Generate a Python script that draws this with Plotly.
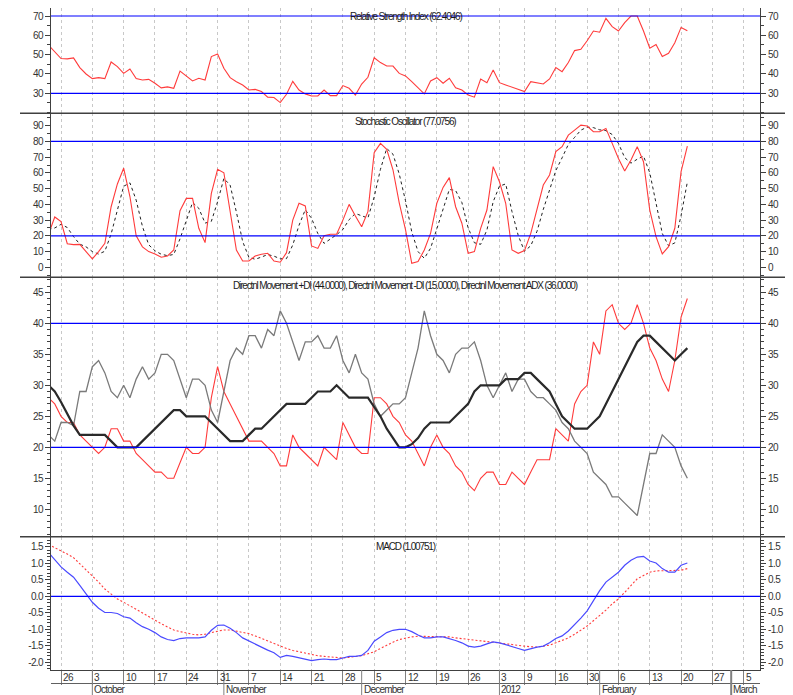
import plotly.graph_objects as go

# ---------------- data (trading-day number, 0 = Mon 26 Sep 2011) ----------------
days = list(range(-2, 101))

rsi = [55, 51.5, 48, 47.8, 48.3, 43.3, 40, 37.6, 38.1, 37.6,
       46.2, 43.8, 40.3, 42.6, 37.6, 36.9, 37.2, 35.2, 32.8, 33.3,
       32.6, 41.5, 39, 36.4, 37.8, 36.9, 49, 50.3, 43, 38.1,
       36, 34.3, 31.7, 32, 30.9, 28, 27.8, 25.2, 29.5, 36.2,
       31.7, 29.7, 28.6, 28.6, 31.7, 28.8, 28.8, 34, 32.6, 29.1,
       34.8, 38.3, 48.4, 45.9, 44.1, 44.1, 40.3, 39, 36, 32.6,
       29.7, 36.4, 38.1, 35.2, 37.8, 32.9, 31.7, 29.1, 28, 37.4,
       35.5, 42.1, 35.5, 34.3, 33.1, 32.1, 30.9, 36, 35.5, 34.8,
       37.4, 43.3, 41.2, 45.9, 52.1, 52.8, 57.2, 62.2, 61.6, 68.8,
       64.5, 62.2, 66.6, 70, 70, 62.2, 53.3, 55.3, 49, 50.7,
       56.2, 64.1, 62.4046]

stoch_k = [21, 32, 29, 15, 14.4, 14.6, 10, 5.3, 10, 15.2,
           38.5, 53, 63, 45, 20, 13, 10, 8.5, 6.4, 7.2,
           11, 36, 43.8, 43.8, 24.8, 15.7, 47, 62.3, 60.1, 34.3,
           11, 4, 4, 7.2, 8.3, 8.9, 4, 3.2, 9.3, 30,
           40.7, 39, 13.6, 12, 20, 21, 21, 30, 40, 32.6,
           25.8, 35.4, 72.8, 78.8, 75, 62, 41, 24, 2.5, 3.6,
           11, 21.6, 40.7, 50.8, 57, 38.5, 28, 8.9, 10, 24.8,
           36.4, 64, 54.4, 40.7, 11, 8.9, 10.6, 21.6, 36.4, 52.3,
           58.7, 73.5, 76.7, 84, 87.2, 90.4, 89.8, 86.2, 86.2, 88.3,
           78.8, 69.2, 61.2, 68.2, 76.7, 67.1, 36.4, 19.5, 8.5, 13.1,
           24.8, 60.8, 77.0756]

stoch_d = [24, 25, 27.3, 25.3, 19.5, 14.7, 13, 10, 8.4, 10.2,
           21.2, 35.6, 51.5, 53.7, 42.7, 26, 14.3, 10.5, 8.3, 7.4,
           8.2, 18.1, 30.3, 41.2, 37.5, 28.1, 29.2, 41.7, 56.5, 52.2,
           35.1, 16.4, 6.3, 5.1, 6.5, 8.1, 7.1, 5.4, 5.5, 14.2,
           26.7, 36.6, 31.1, 21.5, 15.2, 17.7, 20.7, 24, 30.3, 34.2,
           32.8, 31.3, 44.7, 62.3, 75.5, 71.9, 59.3, 42.3, 22.5, 10,
           5.7, 12.1, 24.4, 37.7, 49.5, 48.8, 41.2, 25.1, 15.6, 14.6,
           23.7, 41.7, 51.6, 53, 35.4, 20.2, 10.2, 13.7, 22.9, 36.8,
           49.1, 61.5, 69.6, 78.1, 82.6, 87.2, 89.1, 88.8, 87.4, 86.9,
           84.4, 78.8, 69.7, 66.2, 68.7, 70.7, 60.1, 41, 21.5, 13.7,
           15.5, 32.9, 54.2]

plus_di = [28, 27, 25, 24, 24, 22, 21, 20, 19, 20,
           23, 23, 21, 21, 19, 18, 17, 16, 16, 15,
           15, 17.5, 20, 19, 19, 20, 28, 33, 29, 27,
           25, 23, 21, 21, 21, 20, 19, 17, 17, 22,
           20, 19, 18, 17, 20, 19, 18, 24, 22, 20,
           19, 19, 28, 28, 27, 25, 24, 22, 21, 19,
           17, 20, 22, 20, 19, 17, 16, 14, 13, 15,
           16, 16, 14, 14, 16, 15, 14, 16, 18, 18,
           18, 23, 22, 21, 27, 29, 30, 37, 35, 42,
           43, 40, 39, 40, 43, 40, 36, 34, 31, 29,
           34, 41, 44]

minus_di = [22, 21, 24, 24, 23.5, 29, 29, 33, 34, 32,
            29, 28, 30, 28, 31, 33, 31, 32, 35, 35,
            34, 31, 28, 31, 31, 30, 26, 24, 29, 34,
            36, 35, 38, 38, 36, 39, 38, 42, 40, 37,
            34, 37, 37, 38, 36, 36, 38, 34, 32, 35,
            32, 31, 27, 25, 26, 27, 27, 28, 32, 36,
            42, 38, 35, 34, 32, 35, 36, 36, 37, 34,
            30, 28, 30, 32, 29, 31, 31, 29, 28, 28,
            27, 26, 24, 23, 21, 20, 19, 16, 15, 14,
            12, 12, 11, 10, 9, 14, 19, 19, 22, 21,
            20, 17, 15]

adx = [30, 29, 27.3, 25.5, 23.5, 22, 22, 22, 22, 22,
       21, 20, 20, 20, 20, 21, 22, 23, 24, 25,
       26, 26, 25, 25, 25, 25, 24, 23, 22, 21,
       21, 21, 22, 23, 23, 24, 25, 26, 27, 27,
       27, 27, 28, 29, 29, 29, 30, 29, 28, 28,
       28, 28, 26.5, 25, 23, 21.5, 20, 20, 20.5, 21.5,
       23, 24, 24, 24, 24, 25, 26, 27, 29, 30,
       30, 30, 30, 31, 31, 31, 32, 32, 31, 30,
       29, 27, 25, 24, 23, 23, 23, 24, 25, 27,
       29, 31, 33, 35, 37, 38, 38, 37, 36, 35,
       34, 35, 36]

macd = [1.33, 1.1, 0.89, 0.73, 0.58, 0.33, 0.07, -0.18, -0.36, -0.49,
        -0.49, -0.52, -0.62, -0.66, -0.8, -0.92, -1.0, -1.1, -1.23, -1.31,
        -1.34, -1.28, -1.26, -1.26, -1.26, -1.23, -1.03, -0.88, -0.87, -0.97,
        -1.1, -1.26, -1.36, -1.44, -1.54, -1.63, -1.71, -1.85, -1.79, -1.82,
        -1.87, -1.92, -1.95, -1.92, -1.9, -1.92, -1.92, -1.87, -1.82, -1.82,
        -1.79, -1.64, -1.36, -1.23, -1.1, -1.03, -1.0, -1.0, -1.07, -1.17,
        -1.26, -1.26, -1.23, -1.23, -1.28, -1.34, -1.41, -1.51, -1.54, -1.51,
        -1.44, -1.38, -1.41, -1.46, -1.51, -1.58, -1.64, -1.58, -1.54, -1.51,
        -1.41, -1.28, -1.2, -1.05, -0.87, -0.66, -0.44, -0.13, 0.17, 0.43,
        0.58, 0.73, 0.94, 1.09, 1.19, 1.21, 1.07, 1.01, 0.84, 0.73,
        0.73, 0.94, 1.00751]

macd_signal = [1.57, 1.48, 1.38, 1.28, 1.17, 0.99, 0.81, 0.6, 0.43, 0.22,
               0.07, -0.08, -0.18, -0.29, -0.41, -0.52, -0.62, -0.72, -0.83, -0.93,
               -1.02, -1.07, -1.12, -1.15, -1.17, -1.15, -1.1, -1.05, -1.02, -1.02,
               -1.05, -1.1, -1.13, -1.2, -1.28, -1.36, -1.44, -1.51, -1.58, -1.64,
               -1.68, -1.72, -1.77, -1.8, -1.82, -1.84, -1.85, -1.87, -1.85, -1.83,
               -1.8, -1.74, -1.68, -1.58, -1.48, -1.39, -1.31, -1.26, -1.23, -1.21,
               -1.21, -1.21, -1.21, -1.22, -1.23, -1.26, -1.28, -1.31, -1.34, -1.36,
               -1.38, -1.39, -1.4, -1.43, -1.46, -1.49, -1.52, -1.53, -1.54, -1.51,
               -1.48, -1.41, -1.34, -1.26, -1.15, -1.03, -0.9, -0.74, -0.59, -0.42,
               -0.23, -0.08, 0.12, 0.33, 0.53, 0.63, 0.73, 0.77, 0.77, 0.77,
               0.77, 0.79, 0.84]

week_pos = [0, 5, 10, 15, 20, 25, 30, 35, 40, 45, 50, 55, 60, 65, 70, 74, 79, 84, 89, 94, 99, 104, 109]
week_labels = ["26", "3", "10", "17", "24", "31", "7", "14", "21", "28", "5", "12",
               "19", "26", "3", "9", "16", "30", "6", "13", "20", "27", "5"]
month_pos = [5, 26, 48, 70, 86, 107]
month_labels = ["October", "November", "December", "2012", "February", "March"]

rsi_levels = [30, 70]
stoch_levels = [20, 80]
dmi_levels = [20, 40]
macd_levels = [0]

rsi_ticks = [30, 40, 50, 60, 70]
stoch_ticks = [0, 10, 20, 30, 40, 50, 60, 70, 80, 90]
dmi_ticks = [10, 15, 20, 25, 30, 35, 40, 45]
macd_ticks = [-2.0, -1.5, -1.0, -0.5, 0.0, 0.5, 1.0, 1.5]

titles = ["Relative Strength Index (62.4046)",
          "Stochastic Oscillator (77.0756)",
          "Directnl Movement +DI (44.0000), Directnl Movement -DI (15.0000), Directnl Movement ADX (36.0000)",
          "MACD (1.00751)"]

# ---------------- geometry (page pixels; the page body adds an 8px offset) ----------------
OFF = 8
PAGE_W, PAGE_H = 793, 695
W, H = PAGE_W - OFF, PAGE_H - OFF
P_LEFT, P_RIGHT, P_TOP, P_BOT = 51, 760, 8, 670
ML, MR, MT, MB = P_LEFT - OFF, W - (P_RIGHT - OFF), P_TOP - OFF, H - (P_BOT - OFF)
PH = P_BOT - P_TOP
PW = P_RIGHT - P_LEFT


def fy(py):  # page pixel y -> paper fraction
    return (P_BOT - py) / PH


def fx(px):
    return (px - P_LEFT) / PW


panel_px = [(8, 113.3), (113.3, 277.3), (277.3, 536.7), (536.7, 670)]
domains = [[fy(b), fy(t)] for t, b in panel_px]
domains[0][1] = 1.0
domains[3][0] = 0.0
ranges = [[19.65, 74.14], [-6.36, 97.9], [5.58, 47.42], [-2.233, 1.806]]
xrange_ = [-1.6, 111.6]

FONT = "Liberation Sans, Arial, sans-serif"
AX = "#404040"
RED = "#ff3b3b"


def narrow(t, ls=-0.9):
    return '<span style="letter-spacing:%spx">%s</span>' % (ls, t)


fig = go.Figure()


def add(y, row, color, width, dash="solid"):
    s = "" if row == 1 else str(row)
    fig.add_trace(go.Scatter(x=days, y=y, mode="lines", xaxis="x" + s, yaxis="y" + s,
                             line=dict(color=color, width=width, dash=dash),
                             showlegend=False, hoverinfo="skip"))


add(rsi, 1, RED, 1.1)
add(stoch_d, 2, "#202020", 1, "3px,3px")
add(stoch_k, 2, RED, 1.1)
add(plus_di, 3, RED, 1.1)
add(minus_di, 3, "#7a7a7a", 1.3)
add(adx, 3, "#2a2a2a", 2.2)
add(macd_signal, 4, RED, 1.1, "2px,2px")
add(macd, 4, "#4a4aff", 1.2)

# invisible traces for right-hand axes
for i, ser in enumerate([rsi, stoch_k, adx, macd]):
    fig.add_trace(go.Scatter(x=days, y=ser, mode="lines", xaxis="x" + ("" if i == 0 else str(i + 1)),
                             yaxis="y" + str(i + 5), opacity=0, line=dict(width=1),
                             showlegend=False, hoverinfo="skip"))

layout = dict(width=W, height=H, template="none",
              margin=dict(l=ML, r=MR, t=MT, b=MB, autoexpand=False, pad=0),
              paper_bgcolor="white", plot_bgcolor="white", showlegend=False,
              font=dict(family=FONT, size=10, color="#333333"))

tick_sets = [rsi_ticks, stoch_ticks, dmi_ticks, macd_ticks]
minor_dt = [5, 5, 1, 0.1]
for i in range(4):
    s = "" if i == 0 else str(i + 1)
    xa = dict(domain=[0, 1], range=xrange_, anchor="y" + s, tickmode="array", tickvals=week_pos,
              showticklabels=False, showgrid=True, gridcolor="#c8c8c8", griddash="3px,3px",
              gridwidth=1, zeroline=False, showline=False, ticks="", automargin=False, fixedrange=True)
    if i > 0:
        xa["matches"] = "x"
    if i == 3:
        xa.update(ticks="outside", ticklen=14, tickcolor="#808080", tickwidth=1,
                  showline=True, linecolor=AX, linewidth=1)
    layout["xaxis" + s] = xa
    tv = tick_sets[i]
    tt = [narrow(("%.1f" % v) if i == 3 else str(v), -0.6) for v in tv]
    common = dict(range=ranges[i], tickmode="array", tickvals=tv, ticktext=tt,
                  ticks="outside", ticklen=5, tickcolor=AX, tickwidth=1,
                  showline=True, linecolor=AX, linewidth=1, showgrid=False, zeroline=False,
                  minor=dict(tickmode="linear", tick0=0, dtick=minor_dt[i], ticks="outside",
                             ticklen=3, tickcolor=AX, showgrid=False),
                  tickfont=dict(family=FONT, size=10, color="#333333"),
                  automargin=False, fixedrange=True)
    layout["yaxis" + s] = dict(common, domain=domains[i], anchor="x" + s, side="left")
    layout["yaxis" + str(i + 5)] = dict(common, overlaying="y" + s, anchor="x" + s, side="right")

shapes = []
levels = [rsi_levels, stoch_levels, dmi_levels, macd_levels]
for i, lv in enumerate(levels):
    s = "" if i == 0 else str(i + 1)
    for v in lv:
        shapes.append(dict(type="line", xref="x" + s + " domain", x0=0, x1=1, yref="y" + s,
                           y0=v, y1=v, line=dict(color="#0000ff", width=1.2)))
# panel separators
for t, b in panel_px[1:]:
    shapes.append(dict(type="line", xref="paper", x0=fx(20), x1=fx(793), yref="paper",
                       y0=fy(t), y1=fy(t), line=dict(color=AX, width=1.5)))
# date rows
shapes.append(dict(type="line", xref="paper", x0=0, x1=1, yref="paper",
                   y0=fy(683.5), y1=fy(683.5), line=dict(color="#606060", width=1)))
for mp, ml in zip(month_pos, month_labels):
    shapes.append(dict(type="line", xref="x4", x0=mp, x1=mp, yref="paper",
                       y0=fy(670), y1=fy(695), line=dict(color="#808080", width=2 if ml == "March" else 1)))
layout["shapes"] = shapes

ann = []
title_center = [16, 121.5, 286, 546]
for i, t in enumerate(titles):
    ann.append(dict(text=narrow(t, -1.15), xref="paper", x=0.5, yref="paper", y=fy(title_center[i]),
                    yanchor="middle", showarrow=False,
                    font=dict(family=FONT, size=10, color="#1a1a1a")))
for p, lab in zip(week_pos, week_labels):
    ann.append(dict(text=narrow(lab, -0.6), xref="x4", x=p, xanchor="left", xshift=0, yref="paper",
                    y=fy(677), yanchor="middle", showarrow=False,
                    font=dict(family=FONT, size=10, color="#333333")))
for p, lab in zip(month_pos, month_labels):
    ann.append(dict(text=narrow(lab, -0.8), xref="x4", x=p, xanchor="left", xshift=0, yref="paper",
                    y=fy(689.5), yanchor="middle", showarrow=False,
                    font=dict(family=FONT, size=10, color="#333333")))
layout["annotations"] = ann

fig.update_layout(**layout)
fig.write_html("out.html")
